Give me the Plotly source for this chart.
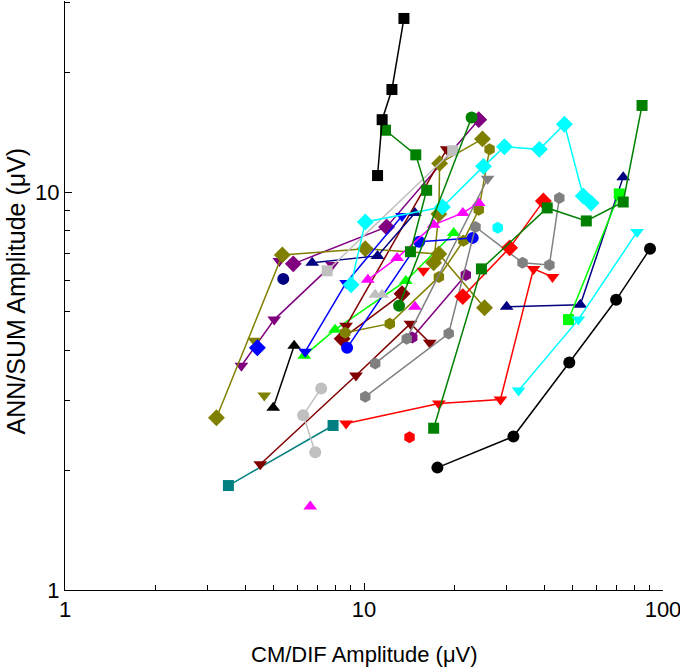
import plotly.graph_objects as go

# ---- data (CM/DIF amplitude x, ANN/SUM amplitude y, in microvolts) ----
blk_sq_x = [13.6, 12.4, 11.5, 11.1]
blk_sq_y = [27.3, 18.1, 15.2, 11.0]

grn_sq1_x = [11.8, 14.9, 16.2, 14.3]
grn_sq1_y = [14.3, 12.4, 10.1, 7.08]

grn_sq2_x = [17.1, 24.7, 41.0, 55.4, 73.6, 85.1]
grn_sq2_y = [2.55, 6.41, 9.12, 8.46, 9.44, 16.5]

grn_ci_x = [13.1, 22.9]
grn_ci_y = [5.18, 15.4]

cyan_di_x = [9.05, 10.1, 18.3, 25.1, 29.5, 38.6, 46.8, 54.1, 57.5]
cyan_di_y = [5.85, 8.41, 9.17, 11.6, 13.0, 12.8, 14.8, 9.77, 9.38]

cyan_hex_x = [28.0]
cyan_hex_y = [8.13]

cyan_td_x = [32.9, 52.1, 81.9]
cyan_td_y = [3.17, 4.78, 7.94]

blk_ci_x = [17.6, 31.6, 48.6, 69.7, 90.5]
blk_ci_y = [2.03, 2.43, 3.73, 5.36, 7.20]

lime_sq_x = [48.3, 71.4]
lime_sq_y = [4.78, 9.89]

navy_tu1_x = [30.0, 52.9, 73.6]
navy_tu1_y = [5.15, 5.21, 10.9]

red_td_x = [8.71, 17.8, 28.6, 36.9, 42.7]
red_td_y = [2.62, 2.94, 3.01, 6.41, 6.12]

red_di_x = [21.4, 30.7, 39.8]
red_di_y = [5.46, 7.24, 9.49]

red_td2_x = [15.8]
red_td2_y = [6.34]

red_hex_x = [14.2]
red_hex_y = [2.42]

gray_hex1_x = [10.1, 19.2, 23.6, 33.9, 41.7, 45.0]
gray_hex1_y = [3.06, 4.41, 8.17, 6.64, 6.56, 9.66]

gray_hex2_x = [10.9, 13.9, 25.9]
gray_hex2_y = [3.71, 4.28, 10.8]

silver_ci_x = [7.19, 6.26, 6.87]
silver_ci_y = [3.21, 2.75, 2.22]

silver_sq_x = [7.53, 19.8]
silver_sq_y = [6.34, 12.7]

silver_tu_x = [10.9, 11.5]
silver_tu_y = [5.52, 5.52]

mag_tu_x = [10.3, 12.9, 17.1, 21.4, 24.2]
mag_tu_y = [6.02, 6.83, 8.27, 8.86, 9.38]

mag_tu2_x = [14.8]
mag_tu2_y = [5.15]

mag_tu3_x = [6.61]
mag_tu3_y = [1.62]

blue_td_x = [6.36, 8.71, 13.4]
blue_td_y = [3.97, 5.91, 8.71]

blue_di_x = [4.40]
blue_di_y = [4.06]

blue_ci_x = [8.78, 15.3, 23.1]
blue_ci_y = [4.06, 7.50, 7.67]

navy_tu2_x = [6.71, 11.1, 14.8]
navy_tu2_y = [6.64, 6.91, 8.86]

navy_ci_x = [5.37]
navy_ci_y = [6.05]

olive_di1_x = [3.21, 5.33, 10.1, 17.8, 25.3]
olive_di1_y = [2.71, 6.95, 7.20, 6.99, 5.12]

olive_di2_x = [17.1, 17.8, 17.9, 24.9]
olive_di2_y = [6.64, 8.81, 11.8, 13.6]

olive_td_x = [4.30]
olive_td_y = [4.23]

olive_td2_x = [4.64]
olive_td2_y = [3.08]

olive_hex_x = [8.65, 12.2, 17.8, 21.5, 24.2, 26.3]
olive_hex_y = [4.43, 4.67, 6.12, 7.54, 9.02, 12.8]

maroon_td1_x = [4.50, 9.40, 14.3, 16.6]
maroon_td1_y = [2.07, 3.46, 4.67, 4.18]

maroon_di_x = [8.45, 13.4]
maroon_di_y = [4.28, 5.55]

maroon_td2_x = [8.71, 18.9]
maroon_td2_y = [4.61, 12.8]

purple_td_x = [3.89, 5.01, 7.82]
purple_td_y = [3.66, 4.78, 6.56]

purple_td2_x = [5.21]
purple_td2_y = [6.71]

purple_di_x = [5.80, 11.9, 24.2]
purple_di_y = [6.60, 8.17, 15.2]

purple_hex_x = [14.5, 21.9]
purple_hex_y = [4.31, 6.19]

lime_tu_x = [6.31, 8.0, 13.8, 19.95]
lime_tu_y = [3.88, 4.51, 5.98, 7.89]

blk_tu_x = [4.97, 5.84]
blk_tu_y = [2.87, 4.11]

teal_sq_x = [3.52, 7.88]
teal_sq_y = [1.83, 2.59]

x_tick_vals = [1, 10, 100]
x_tick_text = ["1", "10", "100"]
y_tick_vals = [1, 10]
y_tick_text = ["1", "10"]

SQ, CI, DI, TR, HX = 11, 12, 13, 12, 12

# ---- styling per series ----
series = [
    (teal_sq_x, teal_sq_y, "#008080", "square", SQ),
    (blk_tu_x, blk_tu_y, "#000000", "triangle-up", TR),
    (lime_tu_x, lime_tu_y, "#00FF00", "triangle-up", TR),
    (purple_hex_x, purple_hex_y, "#800080", "hexagon", HX),
    (purple_di_x, purple_di_y, "#800080", "diamond", DI),
    (purple_td2_x, purple_td2_y, "#800080", "triangle-down", TR),
    (purple_td_x, purple_td_y, "#800080", "triangle-down", TR),
    (maroon_td2_x, maroon_td2_y, "#800000", "triangle-down", TR),
    (maroon_di_x, maroon_di_y, "#800000", "diamond", DI),
    (maroon_td1_x, maroon_td1_y, "#800000", "triangle-down", TR),
    (olive_hex_x, olive_hex_y, "#808000", "hexagon", HX),
    (olive_td2_x, olive_td2_y, "#808000", "triangle-down", TR),
    (olive_td_x, olive_td_y, "#808000", "triangle-down", TR),
    (olive_di2_x, olive_di2_y, "#808000", "diamond", DI),
    (olive_di1_x, olive_di1_y, "#808000", "diamond", DI),
    (navy_ci_x, navy_ci_y, "#000080", "circle", CI),
    (navy_tu2_x, navy_tu2_y, "#000080", "triangle-up", TR),
    (blue_ci_x, blue_ci_y, "#0000FF", "circle", CI),
    (blue_di_x, blue_di_y, "#0000FF", "diamond", DI),
    (blue_td_x, blue_td_y, "#0000FF", "triangle-down", TR),
    (mag_tu3_x, mag_tu3_y, "#FF00FF", "triangle-up", TR),
    (mag_tu2_x, mag_tu2_y, "#FF00FF", "triangle-up", TR),
    (mag_tu_x, mag_tu_y, "#FF00FF", "triangle-up", TR),
    (silver_tu_x, silver_tu_y, "#C0C0C0", "triangle-up", TR),
    (silver_sq_x, silver_sq_y, "#C0C0C0", "square", SQ),
    (silver_ci_x, silver_ci_y, "#C0C0C0", "circle", CI),
    (gray_hex2_x, gray_hex2_y, "#808080", ["hexagon", "hexagon", "triangle-down"], HX),
    (gray_hex1_x, gray_hex1_y, "#808080", "hexagon", HX),
    (red_hex_x, red_hex_y, "#FF0000", "hexagon", HX),
    (red_td2_x, red_td2_y, "#FF0000", "triangle-down", TR),
    (red_di_x, red_di_y, "#FF0000", "diamond", DI),
    (red_td_x, red_td_y, "#FF0000", "triangle-down", TR),
    (navy_tu1_x, navy_tu1_y, "#000080", "triangle-up", TR),
    (lime_sq_x, lime_sq_y, "#00FF00", "square", SQ),
    (blk_ci_x, blk_ci_y, "#000000", "circle", CI),
    (cyan_td_x, cyan_td_y, "#00FFFF", "triangle-down", TR),
    (cyan_hex_x, cyan_hex_y, "#00FFFF", "hexagon", HX),
    (cyan_di_x, cyan_di_y, "#00FFFF", "diamond", DI),
    (grn_ci_x, grn_ci_y, "#008000", "circle", CI),
    (grn_sq2_x, grn_sq2_y, "#008000", "square", SQ),
    (grn_sq1_x, grn_sq1_y, "#008000", "square", SQ),
    (blk_sq_x, blk_sq_y, "#000000", "square", SQ),
]

fig = go.Figure()
for xs, ys, col, sym, sz in series:
    fig.add_trace(go.Scatter(
        x=xs, y=ys, mode="lines+markers",
        line=dict(color=col, width=1.5),
        marker=dict(color=col, symbol=sym, size=sz, line=dict(width=0)),
        showlegend=False, hoverinfo="skip",
    ))

font = "Liberation Sans, Arial, sans-serif"
fig.update_layout(
    width=680, height=670,
    margin=dict(l=65, r=17, t=1, b=80),
    paper_bgcolor="white", plot_bgcolor="white",
    font=dict(family=font, size=22, color="black"),
    hovermode=False,
    annotations=[
        dict(text="CM/DIF Amplitude (μV)", xref="paper", yref="paper",
             x=0.5, y=0, xanchor="center", yanchor="middle", yshift=-64,
             showarrow=False, font=dict(size=22)),
        dict(text="ANN/SUM Amplitude (μV)", xref="paper", yref="paper",
             x=0, y=0.5, xanchor="center", yanchor="middle", xshift=-50, yshift=4,
             textangle=-90, showarrow=False, font=dict(size=25)),
    ],
)
fig.update_xaxes(
    type="log", range=[0, 2], automargin=False,
    tickvals=x_tick_vals, ticktext=x_tick_text, ticklabeloverflow="allow",
    ticks="inside", ticklen=7, tickcolor="black",
    minor=dict(ticks="inside", ticklen=5, tickcolor="black",
               tickvals=[2, 3, 4, 5, 6, 7, 8, 9, 20, 30, 40, 50, 60, 70, 80, 90]),
    showline=True, linecolor="black", linewidth=1, mirror=False,
    showgrid=False, zeroline=False,
    tickfont=dict(size=22),
)
fig.update_yaxes(
    type="log", range=[0, 1.48], automargin=False,
    tickvals=y_tick_vals, ticktext=y_tick_text,
    ticks="inside", ticklen=7, tickcolor="black",
    minor=dict(ticks="inside", ticklen=5, tickcolor="black",
               tickvals=[2, 3, 4, 5, 6, 7, 8, 9, 20, 30]),
    showline=True, linecolor="black", linewidth=1, mirror=False,
    showgrid=False, zeroline=False,
    tickfont=dict(size=22),
)

fig.write_html(
    "out.html",
    config={"displayModeBar": False, "staticPlot": True},
    post_script="document.body.style.margin='0px';document.body.style.overflow='hidden';",
)
